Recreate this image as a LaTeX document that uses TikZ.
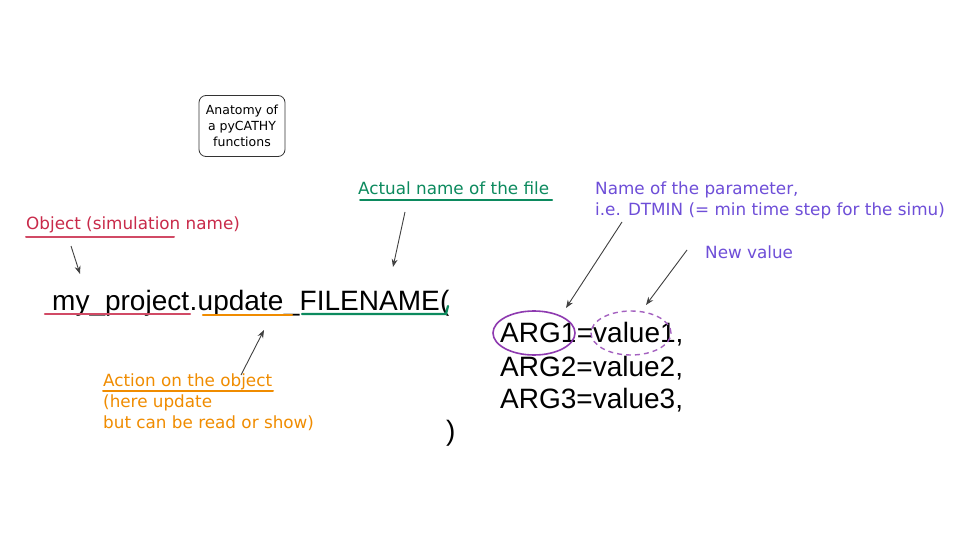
\documentclass[tikz,border=0pt]{standalone}
\usepackage{fontspec}
\setmainfont{Liberation Sans}
\newfontfamily\hand{DejaVu Sans}
\usetikzlibrary{arrows.meta}
\definecolor{cred}{HTML}{C92A4A}
\definecolor{cgreen}{HTML}{0C8A5E}
\definecolor{corange}{HTML}{F08C00}
\definecolor{cpurple}{HTML}{6E4ED8}
\definecolor{cmag}{HTML}{8E3AB0}
\tikzset{
  code/.style={font=\fontsize{28}{30}\selectfont, inner sep=0pt, anchor=base west},
  note/.style={font=\hand\fontsize{16.8}{21}\selectfont, inner sep=0pt, anchor=base west, align=left},
  pointer/.style={draw=black!75, line width=0.9pt, -{Stealth[length=8pt,width=6pt]}},
  uline/.style={line width=2.2pt, line cap=round},
}
\begin{document}
\begin{tikzpicture}[x=1pt,y=-1pt]
\useasboundingbox (0,0) rectangle (960,540);
\fill[white] (0,0) rectangle (960,540);

% title box
\node[draw=black!80, line width=0.8pt, rounded corners=7pt, minimum width=86pt, minimum height=61pt,
      align=center, font=\hand\fontsize{12.5}{16}\selectfont] (title) at (242,126)
      {Anatomy of\\a pyCATHY\\functions};

% code line
\node[code] (obj) at (52,310) {my\_project};
\node[code] (dot) at (obj.base east) {.};
\node[code] (act) at (dot.base east) {update};
\node[code] (us) at (act.base east) {\_};
\node[code] (fil) at (us.base east) {FILENAME};
\node[code] (par) at (fil.base east) {(};
\node[code] (close) at (446,440) {)};

% args
\node[code] (arg1) at (500,342) {ARG1};
\node[code] (val1) at (arg1.base east) {=value1,};
\node[code] (arg2) at (500,376) {ARG2=value2,};
\node[code] (arg3) at (500,408) {ARG3=value3,};

% underlines under code
\coordinate (u1a) at (45,314); \coordinate (u1b) at (190,314);
\coordinate (u2a) at (203,315); \coordinate (u2b) at (292,315);
\coordinate (u3a) at (302,314); \coordinate (u3b) at (446,314);
\draw[uline, cred!85] (u1a) -- (u1b);
\draw[uline, corange] (u2a) -- (u2b);
\draw[uline, cgreen] (u3a) -- (u3b) -- ++(2,-8);

% ellipses
\draw[cmag, line width=1.6pt] (534,333) ellipse (41pt and 22pt);
\draw[cmag!80, line width=1.4pt, dash pattern=on 5pt off 4pt] (631,333) ellipse (40pt and 22pt);

% labels
\node[note, text=cred] (lobj) at (26,229) {Object (simulation name)};
\coordinate (lobjul) at (26,237);
\draw[uline, cred!85, line width=2pt] (lobjul) -- ++(148,0);
\node[note, text=cgreen] (lfile) at (358,194) {Actual name of the file};
\coordinate (lfileul) at (360,200);
\draw[uline, cgreen, line width=2pt] (lfileul) -- ++(192,0);
\node[note, text=corange] (lact) at (103,428)
  {Action on the object\\(here update\\but can be read or show)};
\coordinate (lactul) at (103,391);
\draw[uline, corange, line width=2pt] (lactul) -- ++(170,0);
\node[note, text=cpurple] (lparam) at (595,215) {Name of the parameter,\\i.e. DTMIN (= min time step for the simu)};
\node[note, text=cpurple] (lnew) at (705,258) {New value};

% pointers
\coordinate (p1s) at (71,246); \coordinate (p1e) at (80,274);
\draw[pointer] (p1s) -- (p1e);
\coordinate (p2s) at (405,212); \coordinate (p2e) at (393,267);
\draw[pointer] (p2s) -- (p2e);
\coordinate (p3s) at (241,375); \coordinate (p3e) at (264,330);
\draw[pointer] (p3s) -- (p3e);
\coordinate (p4s) at (622,222); \coordinate (p4e) at (566,308);
\draw[pointer] (p4s) -- (p4e);
\coordinate (p5s) at (687,250); \coordinate (p5e) at (646,305);
\draw[pointer] (p5s) -- (p5e);
\end{tikzpicture}
\end{document}
